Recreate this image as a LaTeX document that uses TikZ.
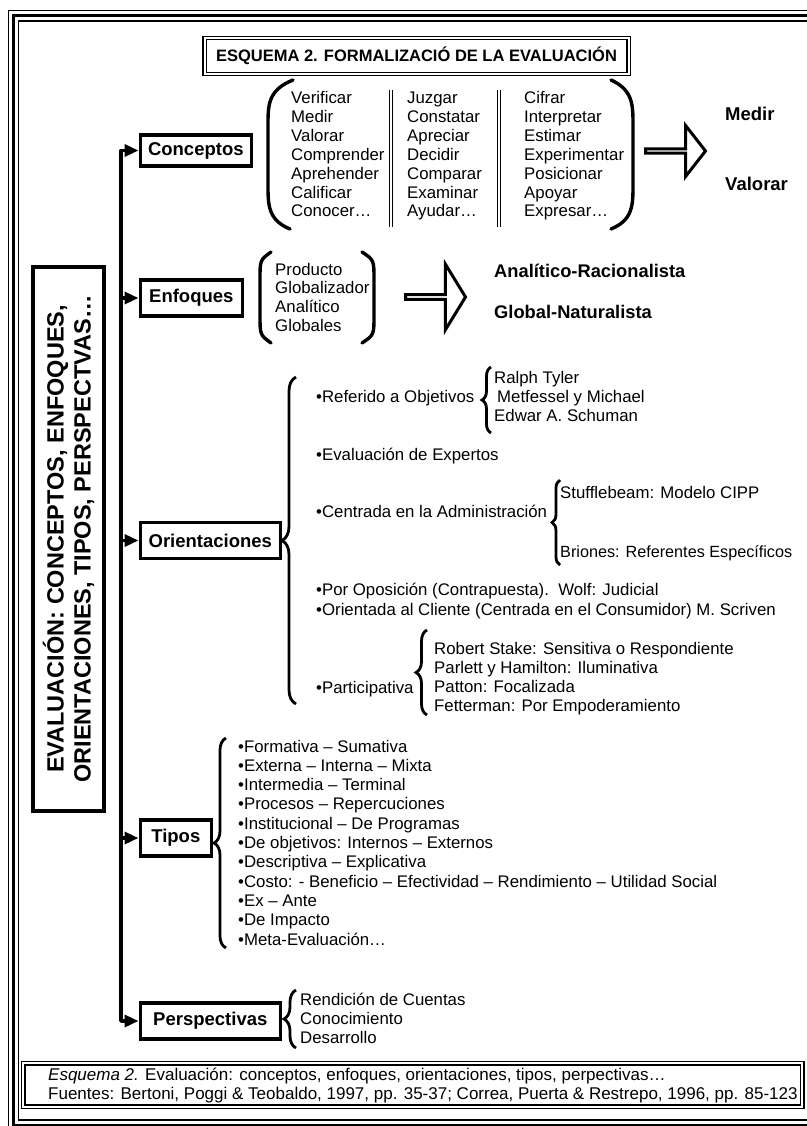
\documentclass[tikz,border=0pt]{standalone}
\usepackage{fontspec}
\setmainfont{Liberation Sans}
\usetikzlibrary{arrows.meta,positioning,shapes.arrows,decorations.pathreplacing}

\begin{document}
\begin{tikzpicture}[x=1pt, y=-1pt,
topic/.style={draw, line width=3.6pt, font=\bfseries\fontsize{18.5}{22}\selectfont, minimum height=36pt, inner sep=0pt, anchor=west},
txt/.style={anchor=base west, inner sep=0pt, font=\fontsize{16.8}{19}\selectfont},
result/.style={anchor=base west, inner sep=0pt, font=\bfseries\fontsize{18.3}{22}\selectfont},
arr/.style={line width=3.4pt, -{Triangle[length=14pt,width=12pt]}, line join=round},
brc/.style={decorate, decoration={brace, amplitude=#1}, line width=2.8pt},
paren/.style={line width=3.4pt, line cap=round},
sepline/.style={double, line width=1.3pt, double distance=2.2pt},
fatarrow/.style={draw, single arrow, line width=3pt, fill=white, inner sep=0pt, single arrow head indent=0pt, anchor=tail},
dbox/.style={draw, double, line width=1.3pt, double distance=2pt, inner sep=0pt}
]
\useasboundingbox (0,0) rectangle (806,1126);

% marco
\draw[line width=1.2pt] (8.3,10.7) rectangle (830,1131);
\draw[line width=3.4pt] (13.7,15.3) rectangle (824,1125.5);
\draw[line width=1.2pt] (18.5,21) rectangle (812,1120);

\node[dbox, minimum width=424pt, minimum height=36pt, font=\bfseries\fontsize{16.5}{20}\selectfont] (titulo) at (416.5,56) {ESQUEMA 2. FORMALIZACIÓ DE LA EVALUACIÓN};

\node[draw, line width=3.6pt, rotate=90, minimum width=544pt, minimum height=71pt, inner sep=0pt, align=center, font=\bfseries\fontsize{23.5}{27}\selectfont] (evaluacion) at (68.5,539) {EVALUACIÓN: CONCEPTOS, ENFOQUES,\\ORIENTACIONES, TIPOS, PERSPECTVAS…};

\node[topic, minimum width=111pt, minimum height=31.4pt] (conceptos) at (138.5,150.5) {Conceptos};
\node[topic, minimum width=102pt] (enfoques) at (138.5,298) {Enfoques};
\node[topic, minimum width=140pt] (orientaciones) at (138.5,540.5) {Orientaciones};
\node[topic, minimum width=71pt] (tipos) at (138.5,838) {Tipos};
\node[topic, minimum width=140pt] (perspectivas) at (138.5,1021) {Perspectivas};

% tronco
\coordinate (ttop) at (121,150.5);
\coordinate (tbot) at (121,1021);
\draw[arr] (tbot) -- (ttop) -- (conceptos.west);
\draw[arr] (ttop) -- (tbot) -- (perspectivas.west);
\foreach \b in {enfoques,orientaciones,tipos}
  \draw[arr] (ttop |- \b.west) -- (\b.west);

% conceptos
\draw[paren] (293,80) .. controls (268,90) and (268,105) .. (268,125) -- (268,185) .. controls (268,205) and (268,220) .. (290,229);
\draw[paren] (611,80) .. controls (633,90) and (633,105) .. (633,125) -- (633,185) .. controls (633,205) and (633,220) .. (611,229);
\draw[sepline] (391,90) -- (391,227);
\draw[sepline] (499,90) -- (499,227);
\foreach \w [count=\i] in {Verificar,Medir,Valorar,Comprender,Aprehender,Calificar,Conocer…}
  \node[txt] (ca\i) at (291,{104+18.8*(\i-1)}) {\w};
\foreach \w [count=\i] in {Juzgar,Constatar,Apreciar,Decidir,Comparar,Examinar,Ayudar…}
  \node[txt] (cb\i) at (407,{104+18.8*(\i-1)}) {\w};
\foreach \w [count=\i] in {Cifrar,Interpretar,Estimar,Experimentar,Posicionar,Apoyar,Expresar…}
  \node[txt] (cc\i) at (524,{104+18.8*(\i-1)}) {\w};
\node[fatarrow, minimum height=60pt, minimum width=51pt, single arrow head extend=16.5pt, single arrow tip angle=104] (flecha1) at (644,151) {};
\node[result, font=\bfseries\fontsize{18.5}{22}\selectfont] (medir) at (725,121) {Medir};
\node[result, font=\bfseries\fontsize{18.5}{22}\selectfont] (valorar) at (725,190) {Valorar};

% enfoques
\draw[paren] (271,252) .. controls (260,260) .. (260,280) -- (260,315) .. controls (260,335) .. (271,343);
\draw[paren] (362,252) .. controls (374,260) .. (374,280) -- (374,315) .. controls (374,335) .. (362,343);
\foreach \w [count=\i] in {Producto,Globalizador,Analítico,Globales}
  \node[txt] (en\i) at (275,{275+18.9*(\i-1)}) {\w};
\node[fatarrow, minimum height=60pt, minimum width=66pt, single arrow head extend=19.5pt, single arrow tip angle=117] (flecha2) at (404,297) {};
\node[result] (analitico) at (494,277) {Analítico-Racionalista};
\node[result] (global) at (494,318) {Global-Naturalista};

% orientaciones
\draw[brc=14] (296,704) -- (296,377);
\node[txt] (referido) at (316,402) {•Referido a Objetivos};
\draw[brc=9] (491,433) -- (491,367);
\node[txt] (tyler) at (494,383) {Ralph Tyler};
\node[txt] (metfessel) at (497,402) {Metfessel y Michael};
\node[txt] (schuman) at (494,421) {Edwar A. Schuman};
\node[txt] (expertos) at (316,460) {•Evaluación de Expertos};
\node[txt] (admin) at (316,517) {•Centrada en la Administración};
\draw[brc=8] (560,565) -- (560,480);
\node[txt] (stuff) at (560,498) {Stufflebeam: Modelo CIPP};
\node[txt, font=\fontsize{16.2}{19}\selectfont] (briones) at (560,557) {Briones: Referentes Específicos};
\node[txt] (oposicion) at (316,595) {•Por Oposición (Contrapuesta).\ \ Wolf: Judicial};
\node[txt] (cliente) at (316,615) {•Orientada al Cliente (Centrada en el Consumidor) M. Scriven};
\node[txt] (partic) at (316,693) {•Participativa};
\draw[brc=11] (427,715) -- (427,630);
\node[txt] (stake) at (434,654) {Robert Stake: Sensitiva o Respondiente};
\node[txt] (parlett) at (434,673) {Parlett y Hamilton: Iluminativa};
\node[txt] (patton) at (434,692) {Patton: Focalizada};
\node[txt] (fetterman) at (434,711) {Fetterman: Por Empoderamiento};

% tipos
\draw[brc=12] (226,948) -- (226,738);
\foreach \w [count=\i] in {•Formativa – Sumativa,•Externa – Interna – Mixta,•Intermedia – Terminal,•Procesos – Repercuciones,•Institucional – De Programas,•De objetivos: Internos – Externos,•Descriptiva – Explicativa,•Costo: - Beneficio – Efectividad – Rendimiento – Utilidad Social,•Ex – Ante,•De Impacto,•Meta-Evaluación…}
  \node[txt] (ti\i) at (238,{752+19.3*(\i-1)}) {\w};

% perspectivas
\draw[brc=12] (296,1048) -- (296,990);
\node[txt] (rendicion) at (300,1005) {Rendición de Cuentas};
\node[txt] (conocimiento) at (300,1024) {Conocimiento};
\node[txt] (desarrollo) at (300,1043) {Desarrollo};

% pie
\node[dbox, minimum width=779pt, minimum height=43.4pt] (pie) at (412.7,1085) {};
\node[txt, font=\fontsize{17}{19}\selectfont] (pie1) at (48,1080) {\textit{Esquema 2.} Evaluación: conceptos, enfoques, orientaciones, tipos, perpectivas…};
\node[txt, font=\fontsize{17}{19}\selectfont] (pie2) at (48,1099) {Fuentes: Bertoni, Poggi \& Teobaldo, 1997, pp. 35-37; Correa, Puerta \& Restrepo, 1996, pp. 85-123};
\end{tikzpicture}
\end{document}
